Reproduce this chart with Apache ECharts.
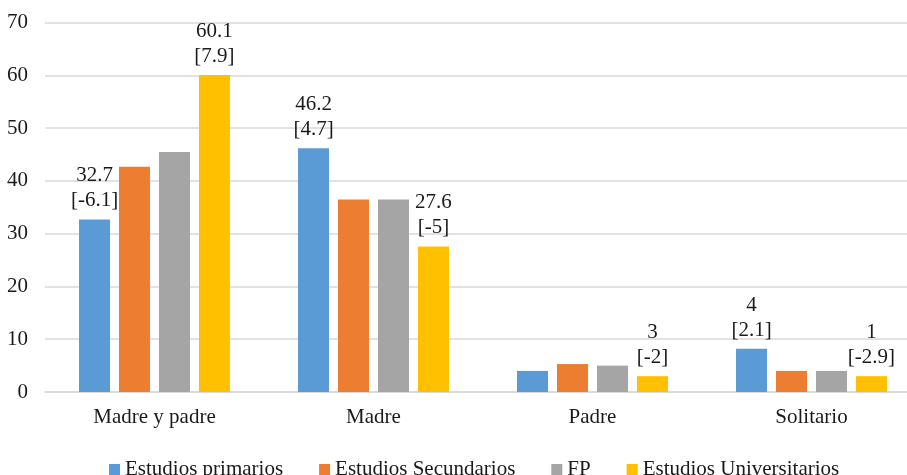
<!DOCTYPE html>
<html><head><meta charset="utf-8">
<script src="https://cdn.jsdelivr.net/npm/echarts@6/dist/echarts.min.js"></script>
<style>html,body{margin:0;padding:0;background:#fff}#c{width:907px;height:475px}</style>
</head><body><div id="c"></div>
<script>
const categories = ['Madre y padre', 'Madre', 'Padre', 'Solitario'];
const seriesNames = ['Estudios primarios', 'Estudios Secundarios', 'FP', 'Estudios Universitarios'];
const colors = ['#5B9BD5', '#ED7D31', '#A5A5A5', '#FFC000'];
const primarios = [32.7, 46.2, 4.0, 8.2];
const secundarios = [42.7, 36.5, 5.3, 4.0];
const fp = [45.5, 36.5, 5.0, 4.0];
const universitarios = [60.1, 27.6, 3.0, 3.0];
const primariosLabels = ['32.7\n[-6.1]', '46.2\n[4.7]', '', '4\n[2.1]'];
const secundariosLabels = ['', '', '', ''];
const fpLabels = ['', '', '', ''];
const universitariosLabels = ['60.1\n[7.9]', '27.6\n[-5]', '3\n[-2]', '1\n[-2.9]'];
const yTicks = {min: 0, max: 70, interval: 10};

const values = [primarios, secundarios, fp, universitarios];
const labels = [primariosLabels, secundariosLabels, fpLabels, universitariosLabels];
const font = '"Liberation Serif", "Times New Roman", serif';
const fs = 21;
const chart = echarts.init(document.getElementById('c'));
chart.setOption({
  animation: false,
  textStyle: {fontFamily: font},
  grid: {left: 45, width: 876, top: 22.7, bottom: 83, outerBoundsMode: 'none', containLabel: false},
  legend: {
    top: 454, left: 104,
    itemWidth: 11, itemHeight: 11, itemGap: 36,
    icon: 'rect',
    textStyle: {fontFamily: font, fontSize: fs, color: '#1a1a1a'},
    data: seriesNames
  },
  xAxis: {
    type: 'category', data: categories,
    axisTick: {show: false},
    axisLine: {lineStyle: {color: '#D9D9D9', width: 1.5}},
    axisLabel: {fontFamily: font, fontSize: fs, color: '#1a1a1a', margin: 15}
  },
  yAxis: {
    type: 'value', min: yTicks.min, max: yTicks.max, interval: yTicks.interval,
    axisLine: {show: false}, axisTick: {show: false},
    splitLine: {lineStyle: {color: '#D9D9D9', width: 1.5}},
    axisLabel: {fontFamily: font, fontSize: fs, color: '#1a1a1a', margin: 17}
  },
  series: seriesNames.map((n, i) => ({
    name: n, type: 'bar', barWidth: 31, barGap: '29%',
    itemStyle: {color: colors[i]},
    data: values[i].map((v, j) => ({
      value: v,
      label: {
        show: labels[i][j] !== '',
        position: 'top', distance: 6,
        formatter: labels[i][j],
        fontFamily: font, fontSize: fs, color: '#1a1a1a', lineHeight: 25
      }
    }))
  }))
});
</script></body></html>
